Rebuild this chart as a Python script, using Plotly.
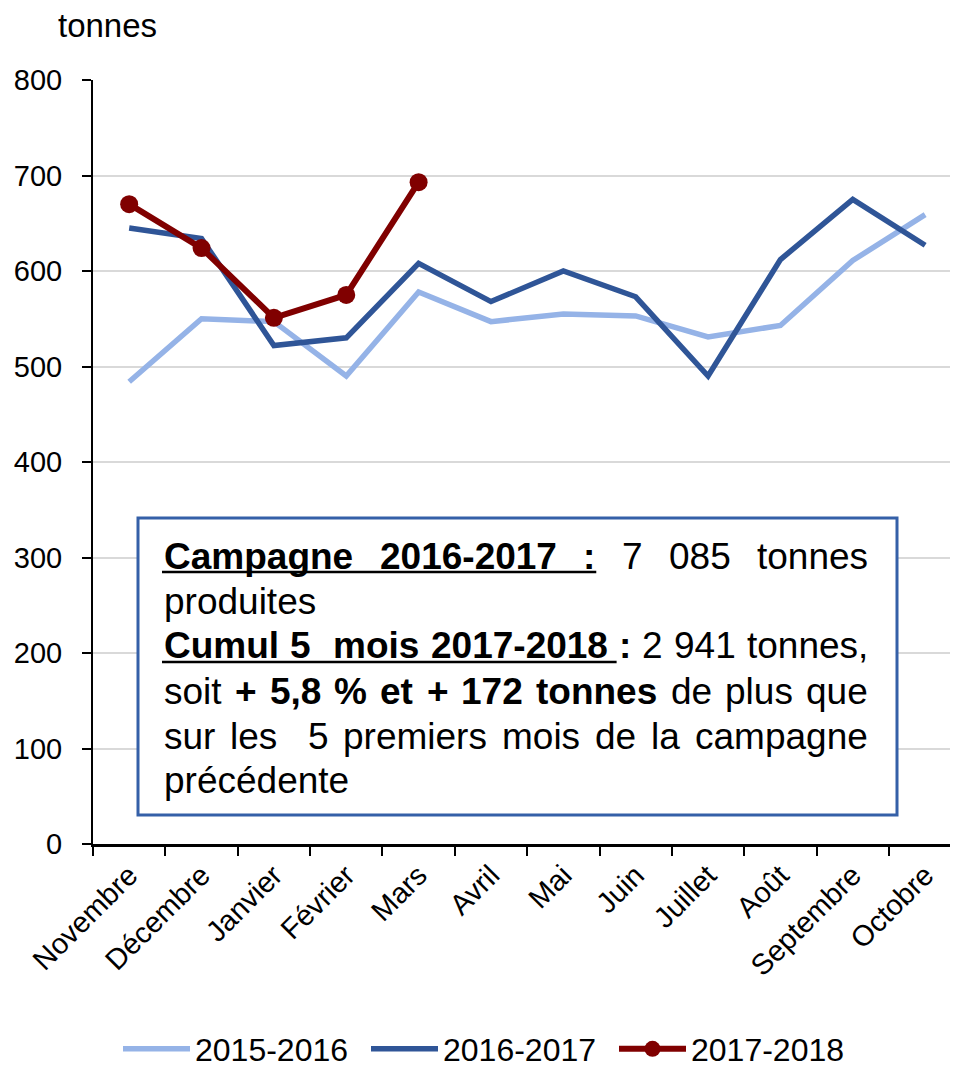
import plotly.graph_objects as go

months = ["Novembre", "Décembre", "Janvier", "Février", "Mars", "Avril", "Mai",
          "Juin", "Juillet", "Août", "Septembre", "Octobre"]
s2015 = [484, 550, 547, 490, 578, 547, 555, 553, 531, 543, 611, 659]
s2016 = [645, 634, 522, 530, 608, 568, 600, 573, 490, 612, 675, 627]
s2018_months = ["Novembre", "Décembre", "Janvier", "Février", "Mars"]
s2018 = [670, 624, 551, 575, 693]
y_ticks = [0, 100, 200, 300, 400, 500, 600, 700, 800]

OFF = 8  # page body margin
W, H = 958 - OFF, 1069 - OFF
L, T = 93 - OFF, 80 - OFF
B = H - (844 - OFF)
R = 0
PW = W - L - R
PH = H - T - B
CAT = 72.36

def px(x):
    return (x - OFF - L) / PW

def py(y):
    return (H - B - (y - OFF)) / PH

FONT = "Liberation Sans, Arial, sans-serif"

fig = go.Figure()
fig.add_trace(go.Scatter(x=months, y=s2015, name="2015-2016", mode="lines",
                         line=dict(color="#95B3E7", width=5.5)))
fig.add_trace(go.Scatter(x=months, y=s2016, name="2016-2017", mode="lines",
                         line=dict(color="#2F5597", width=5.5)))
fig.add_trace(go.Scatter(x=s2018_months, y=s2018, name="2017-2018", mode="lines+markers",
                         line=dict(color="#800000", width=6),
                         marker=dict(color="#800000", size=18)))

fig.update_layout(
    width=W, height=H,
    margin=dict(l=L, r=R, t=T, b=B, autoexpand=False),
    plot_bgcolor="white", paper_bgcolor="white",
    font=dict(family=FONT, color="black", size=29),
    showlegend=True,
    legend=dict(orientation="h", x=px(490), xanchor="center", y=py(1049), yanchor="middle",
                font=dict(size=32, family=FONT), itemwidth=67, entrywidth=166,
                traceorder="normal", bgcolor="rgba(0,0,0,0)"),
    xaxis=dict(categoryorder="array", categoryarray=months,
               range=[-0.5, -0.5 + PW / CAT],
               showline=True, linecolor="black", linewidth=2.5,
               ticks="outside", ticklen=9, tickwidth=1.5, tickcolor="black",
               tickson="boundaries", tickangle=-45, showgrid=False,
               tickfont=dict(size=29), automargin=False),
    yaxis=dict(range=[0, 800], tickvals=y_ticks,
               showline=True, linecolor="black", linewidth=2,
               ticks="outside", ticklen=9, tickwidth=1.5, tickcolor="black",
               showgrid=True, gridcolor="#D9D9D9", gridwidth=1.5,
               zeroline=False, tickfont=dict(size=29), ticklabelstandoff=14,
               automargin=False),
)

# "tonnes" unit label
fig.add_annotation(text="tonnes", xref="paper", yref="paper", x=px(56), y=py(25),
                   xanchor="left", yanchor="middle", showarrow=False,
                   font=dict(size=33, family=FONT, color="black"))

# text box
fig.add_shape(type="rect", xref="paper", yref="paper",
              x0=px(138), x1=px(897), y0=py(815), y1=py(518),
              line=dict(color="#3560A8", width=3), fillcolor="white", layer="above")

BF = 37
X0, X1 = 162, 866

# Arial / Liberation Sans advance widths (1/1000 em)
REG = {" ": 278, "a": 556, "b": 556, "c": 500, "d": 556, "e": 556, "g": 556, "i": 222,
       "l": 222, "m": 833, "n": 556, "o": 556, "p": 556, "q": 556, "r": 333, "s": 500,
       "t": 278, "u": 556, "é": 556, "%": 889, "+": 584, ",": 278, ":": 278, "-": 333}
BLD = {" ": 278, "a": 556, "e": 556, "g": 611, "l": 278, "m": 889, "n": 611, "o": 611,
       "p": 611, "s": 556, "t": 333, "u": 611, "i": 278, "%": 889, "+": 584, ",": 278,
       ":": 333, "-": 333, "C": 722}
for d in "0123456789":
    REG[d] = 556
    BLD[d] = 556

def width(text, bold):
    tab = BLD if bold else REG
    return sum(tab.get(c, 556) for c in text) * BF / 1000.0

def put(text, x, y, anchor="left", bold=False):
    t = f"<b>{text}</b>" if bold else text
    fig.add_annotation(text=t, xref="paper", yref="paper", x=px(x), y=py(y),
                       xanchor=anchor, yanchor="middle", showarrow=False,
                       font=dict(size=BF, family=FONT, color="black"))

def justify(tokens, y):
    # tokens: (word, bold, spaces_after)
    total = sum(width(w, b) for w, b, _ in tokens)
    nsp = sum(s for _, _, s in tokens[:-1])
    sp = (X1 - X0 - total) / nsp
    x = X0
    ends = []
    for w, b, s in tokens:
        put(w, x, y, bold=b)
        x += width(w, b)
        ends.append(x)
        x += s * sp
    return ends, sp

# line 1
ends1, sp1 = justify([("Campagne", True, 2), ("2016-2017", True, 2), (":", True, 2),
                      ("7", False, 2), ("085", False, 2), ("tonnes", False, 0)], 556)
# line 2
put("produites", X0, 601)
# line 3
ends3, sp3 = justify([("Cumul", True, 1), ("5", True, 2), ("mois", True, 1),
                      ("2017-2018", True, 1), (":", True, 1), ("2", False, 1),
                      ("941", False, 1), ("tonnes,", False, 0)], 646)
# line 4
justify([("soit", False, 1), ("+", True, 1), ("5,8", True, 1), ("%", True, 1),
         ("et", True, 1), ("+", True, 1), ("172", True, 1), ("tonnes", True, 1),
         ("de", False, 1), ("plus", False, 1), ("que", False, 0)], 691)
# line 5
justify([("sur", False, 1), ("les", False, 2), ("5", False, 1), ("premiers", False, 1),
         ("mois", False, 1), ("de", False, 1), ("la", False, 1), ("campagne", False, 0)], 736)
# line 6
put("précédente", X0, 780)

# underlines
fig.add_shape(type="line", xref="paper", yref="paper", x0=px(X0), x1=px(ends1[2] + 3),
              y0=py(572), y1=py(572), line=dict(color="black", width=2.5), layer="above")
fig.add_shape(type="line", xref="paper", yref="paper", x0=px(X0), x1=px(ends3[3] + sp3),
              y0=py(662), y1=py(662), line=dict(color="black", width=2.5), layer="above")

fig.write_html("out.html")
